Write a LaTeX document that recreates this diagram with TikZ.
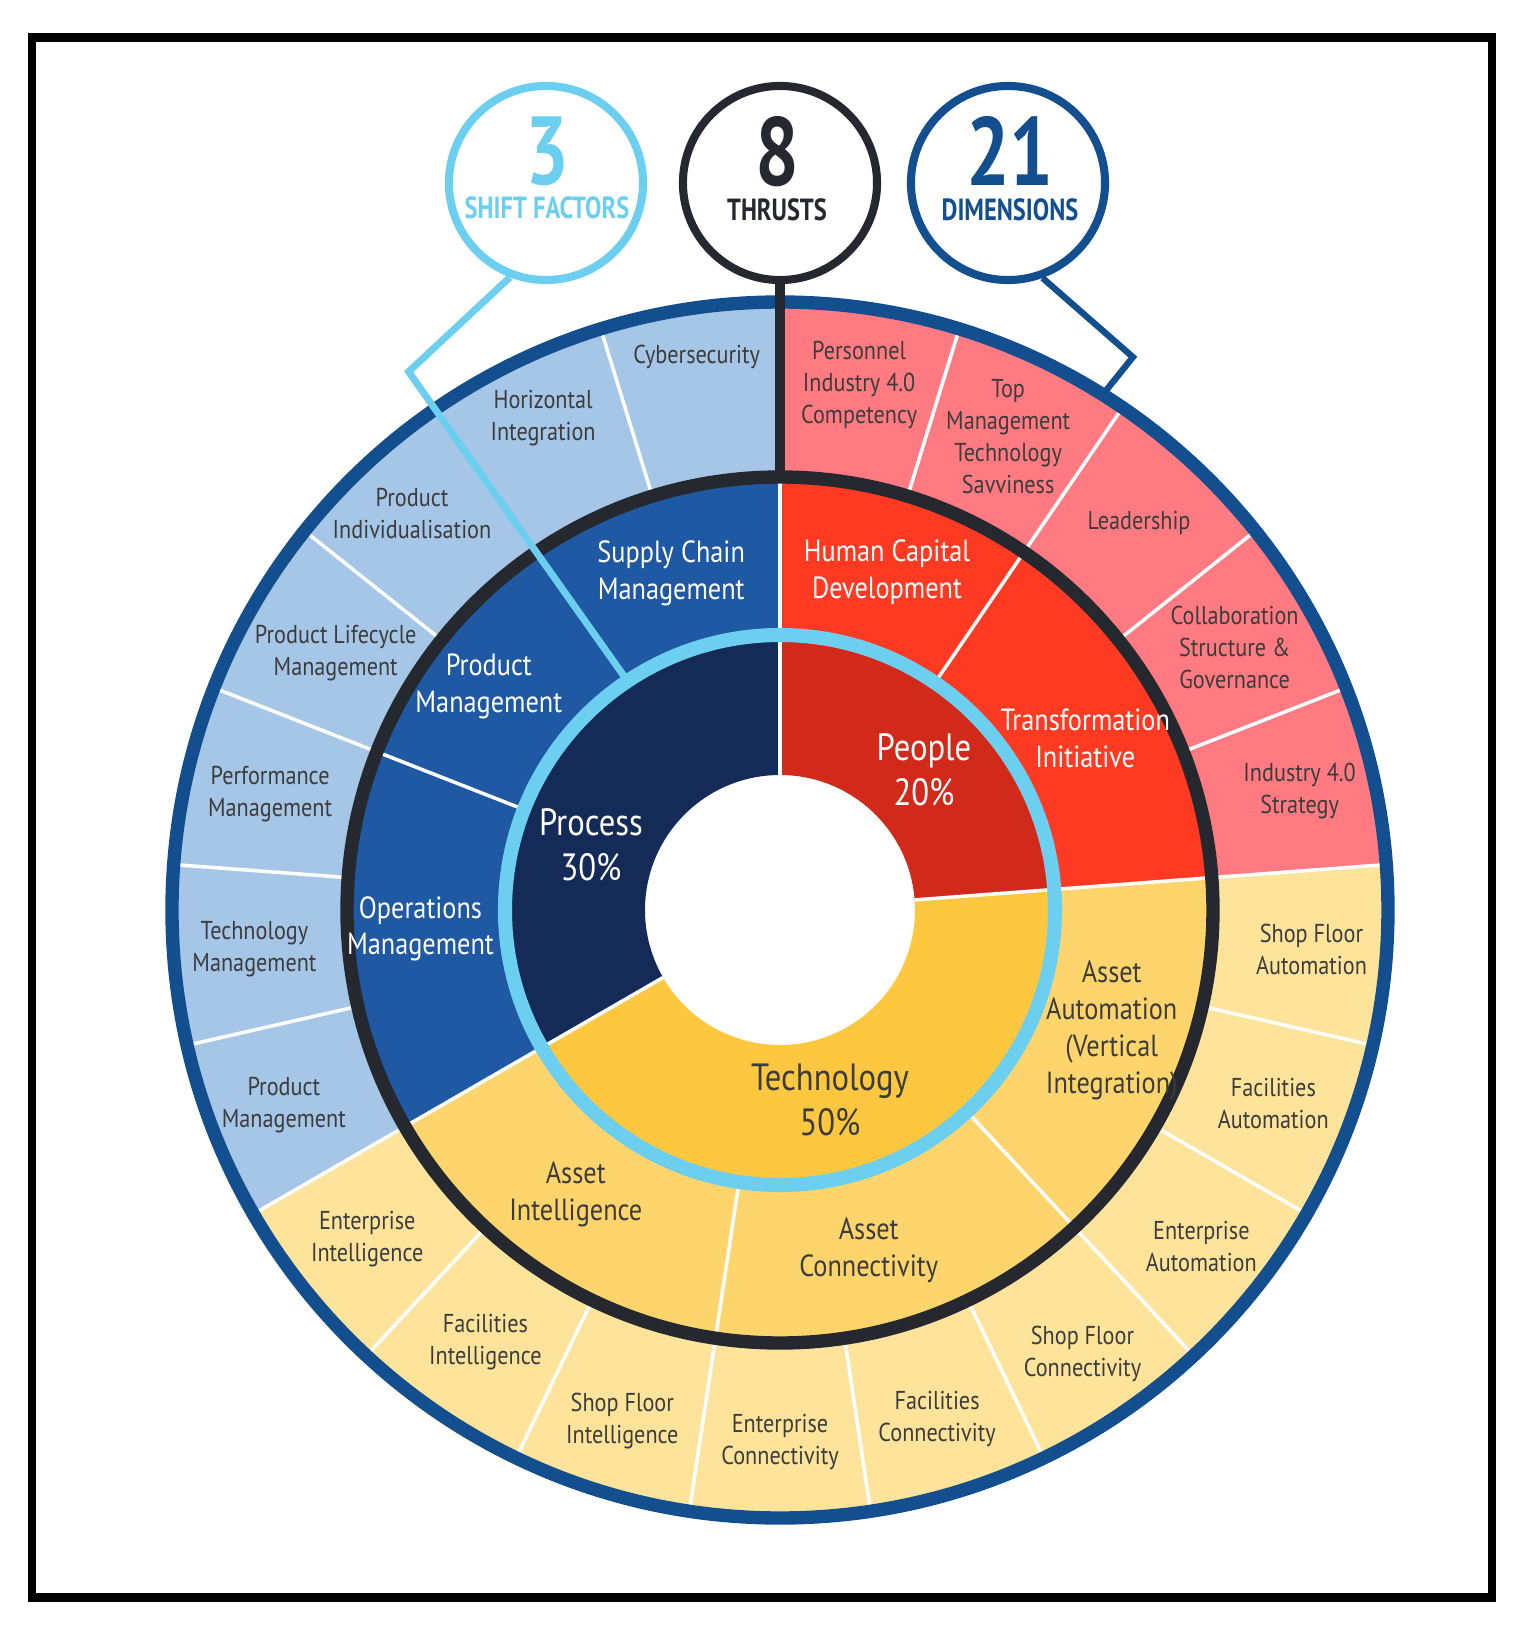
\documentclass[tikz,border=0pt]{standalone}
\usepackage{fontspec}
\setmainfont{PT Sans}[FakeStretch=0.86]
\newfontfamily\headfont{PT Sans}[FakeStretch=0.8]
\newcommand{\bignumfont}{\headfont\bfseries\fontsize{27.5}{27.5}\selectfont}

\definecolor{ringblue}{HTML}{134E8E}
\definecolor{ringblack}{HTML}{25282F}
\definecolor{ringcyan}{HTML}{6DCFF0}
\definecolor{dimblue}{HTML}{A5C6E6}
\definecolor{dimred}{HTML}{FF7A81}
\definecolor{dimyellow}{HTML}{FEE39B}
\definecolor{thrblue}{HTML}{1F58A3}
\definecolor{thrred}{HTML}{FF3A22}
\definecolor{thryellow}{HTML}{FDD56C}
\definecolor{facnavy}{HTML}{142A57}
\definecolor{facred}{HTML}{D22A1A}
\definecolor{facyellow}{HTML}{FDC73F}
\definecolor{labelgray}{HTML}{3C3C3C}

% annular sector: colour, inner radius, outer radius, from angle, to angle
\newcommand{\ringpart}[5]{%
  \fill[#1] (#4:#2) arc[start angle=#4, end angle=#5, radius=#2]
    -- (#5:#3) arc[start angle=#5, end angle=#4, radius=#3] -- cycle;}

\begin{document}
\begin{tikzpicture}[x=0.01cm, y=0.01cm,
    ringsep/.style={white, line width=1pt},
    dimlabel/.style={align=center, text=labelgray, font=\fontsize{7.35}{9.1}\selectfont, inner sep=0pt},
    thrustlabel/.style={align=center, font=\fontsize{8.7}{10.5}\selectfont, inner sep=0pt},
    factorlabel/.style={align=center, font=\fontsize{10.8}{12.8}\selectfont, inner sep=0pt},
    topring/.style={circle, line width=2.3pt, minimum size=1.94cm, inner sep=0pt},
    toptext/.style={anchor=north, align=center, font=\headfont\bfseries\fontsize{8.7}{9.8}\selectfont, inner sep=0pt}]

    \useasboundingbox (-780,-722) rectangle (745,910);
    \draw[line width=2.3pt] (-748,-687.5) rectangle (712,872.5);

    \def\rin{135}
    \def\rlb{275}
    \def\rbk{433}
    \def\rout{608}
    \pgfmathsetmacro{\seg}{360/21}
    \pgfmathsetmacro{\aP}{90-5*\seg}
    \pgfmathsetmacro{\aT}{90-14*\seg}

    % dimensions
    \ringpart{dimred}{\rbk}{\rout}{\aP}{90}
    \ringpart{dimyellow}{\rbk}{\rout}{\aT}{\aP}
    \ringpart{dimblue}{\rbk}{\rout}{90}{210}
    % thrusts
    \ringpart{thrred}{\rlb}{\rbk}{\aP}{90}
    \ringpart{thryellow}{\rlb}{\rbk}{\aT}{\aP}
    \ringpart{thrblue}{\rlb}{\rbk}{90}{210}
    % shift factors
    \ringpart{facred}{\rin}{\rlb}{\aP}{90}
    \ringpart{facyellow}{\rin}{\rlb}{\aT}{\aP}
    \ringpart{facnavy}{\rin}{\rlb}{90}{210}

    \foreach \k in {1,...,18,20}
        \draw[ringsep] ({90-\k*\seg}:\rbk) -- ({90-\k*\seg}:\rout);
    \foreach \a in {90, 90-2*\seg, \aP, 90-8*\seg, 90-11*\seg, \aT, 90+4*\seg}
        \draw[ringsep] ({\a}:\rlb) -- ({\a}:\rbk);
    \foreach \a in {90, \aP, \aT}
        \draw[ringsep] ({\a}:\rin) -- ({\a}:\rlb);

    \draw[ringcyan, line width=4pt] (0,0) circle[radius=\rlb];
    \draw[ringblack, line width=3.8pt] (0,0) circle[radius=\rbk];
    \draw[ringblue, line width=3.8pt] (0,0) circle[radius=\rout];

    \foreach \k/\r/\txt in {0/531/{Personnel\\Industry 4.0\\Competency},
        1/526/{Top\\Management\\Technology\\Savviness},
        2/528/{Leadership},
        3/525/{Collaboration\\Structure \&\\Governance},
        4/533/{Industry 4.0\\Strategy},
        5/533/{Shop Floor\\Automation},
        6/530/{Facilities\\Automation},
        7/539/{Enterprise\\Automation},
        8/537/{Shop Floor\\Connectivity},
        9/533/{Facilities\\Connectivity},
        10/532/{Enterprise\\Connectivity},
        11/535/{Shop Floor\\Intelligence},
        12/523/{Facilities\\Intelligence},
        13/528/{Enterprise\\Intelligence},
        14/533/{Product\\Management},
        15/527/{Technology\\Management},
        16/523/{Performance\\Management},
        17/513/{Product Lifecycle\\Management},
        18/541/{Product\\Individualisation},
        19/546/{Horizontal\\Integration},
        20/559/{Cybersecurity}}
        \node[dimlabel] (dim\k) at ({90-(\k+0.5)*\seg}:\r) {\txt};

    \foreach \n/\a/\r/\c/\txt in {scm/107.9/354/white/{Supply Chain\\Management},
        pm/142.5/367/white/{Product\\Management},
        om/183/360/white/{Operations\\Management},
        hcd/72.4/354/white/{Human Capital\\Development},
        ti/29.3/350/white/{Transformation\\Initiative},
        aa/-20/353/labelgray/{Asset\\Automation\\(Vertical\\Integration)},
        ac/-75.4/352/labelgray/{Asset\\Connectivity},
        ai/-125.7/350/labelgray/{Asset\\Intelligence}}
        \node[thrustlabel, text=\c] (\n) at (\a:\r) {\txt};

    \node[factorlabel, text=white] (process) at (-189,65) {Process\\30\%};
    \node[factorlabel, text=white] (people) at (144,140) {People\\20\%};
    \node[factorlabel, text=labelgray] (technology) at (50,-190) {Technology\\50\%};

    \node[topring, draw=ringcyan] (factors) at (-234,727) {};
    \node[topring, draw=ringblack] (thrusts) at (0,727) {};
    \node[topring, draw=ringblue] (dimensions) at (228,727) {};
    \node[toptext, text=ringcyan] (factorstext) at (-233,794) {{\bignumfont 3}\\SHIFT FACTORS};
    \node[toptext, text=ringblack] (thruststext) at (-3,794) {{\bignumfont 8}\\THRUSTS};
    \node[toptext, text=ringblue] (dimensionstext) at (230,794) {{\bignumfont 21}\\DIMENSIONS};

    \coordinate (factorsbend) at (124.6:654);
    \coordinate (factorsend) at (123.7:280);
    \draw[ringcyan, line width=2pt] (factors.249) -- (factorsbend) -- (factorsend);
    \coordinate (thrustsend) at (90:\rbk);
    \draw[ringblack, line width=2.6pt] (thrusts.south) -- (thrustsend);
    \coordinate (dimensionsbend) at (57.45:656);
    \coordinate (dimensionsend) at (57.9:612);
    \draw[ringblue, line width=1.8pt] (dimensions.290) -- (dimensionsbend) -- (dimensionsend);
\end{tikzpicture}
\end{document}
